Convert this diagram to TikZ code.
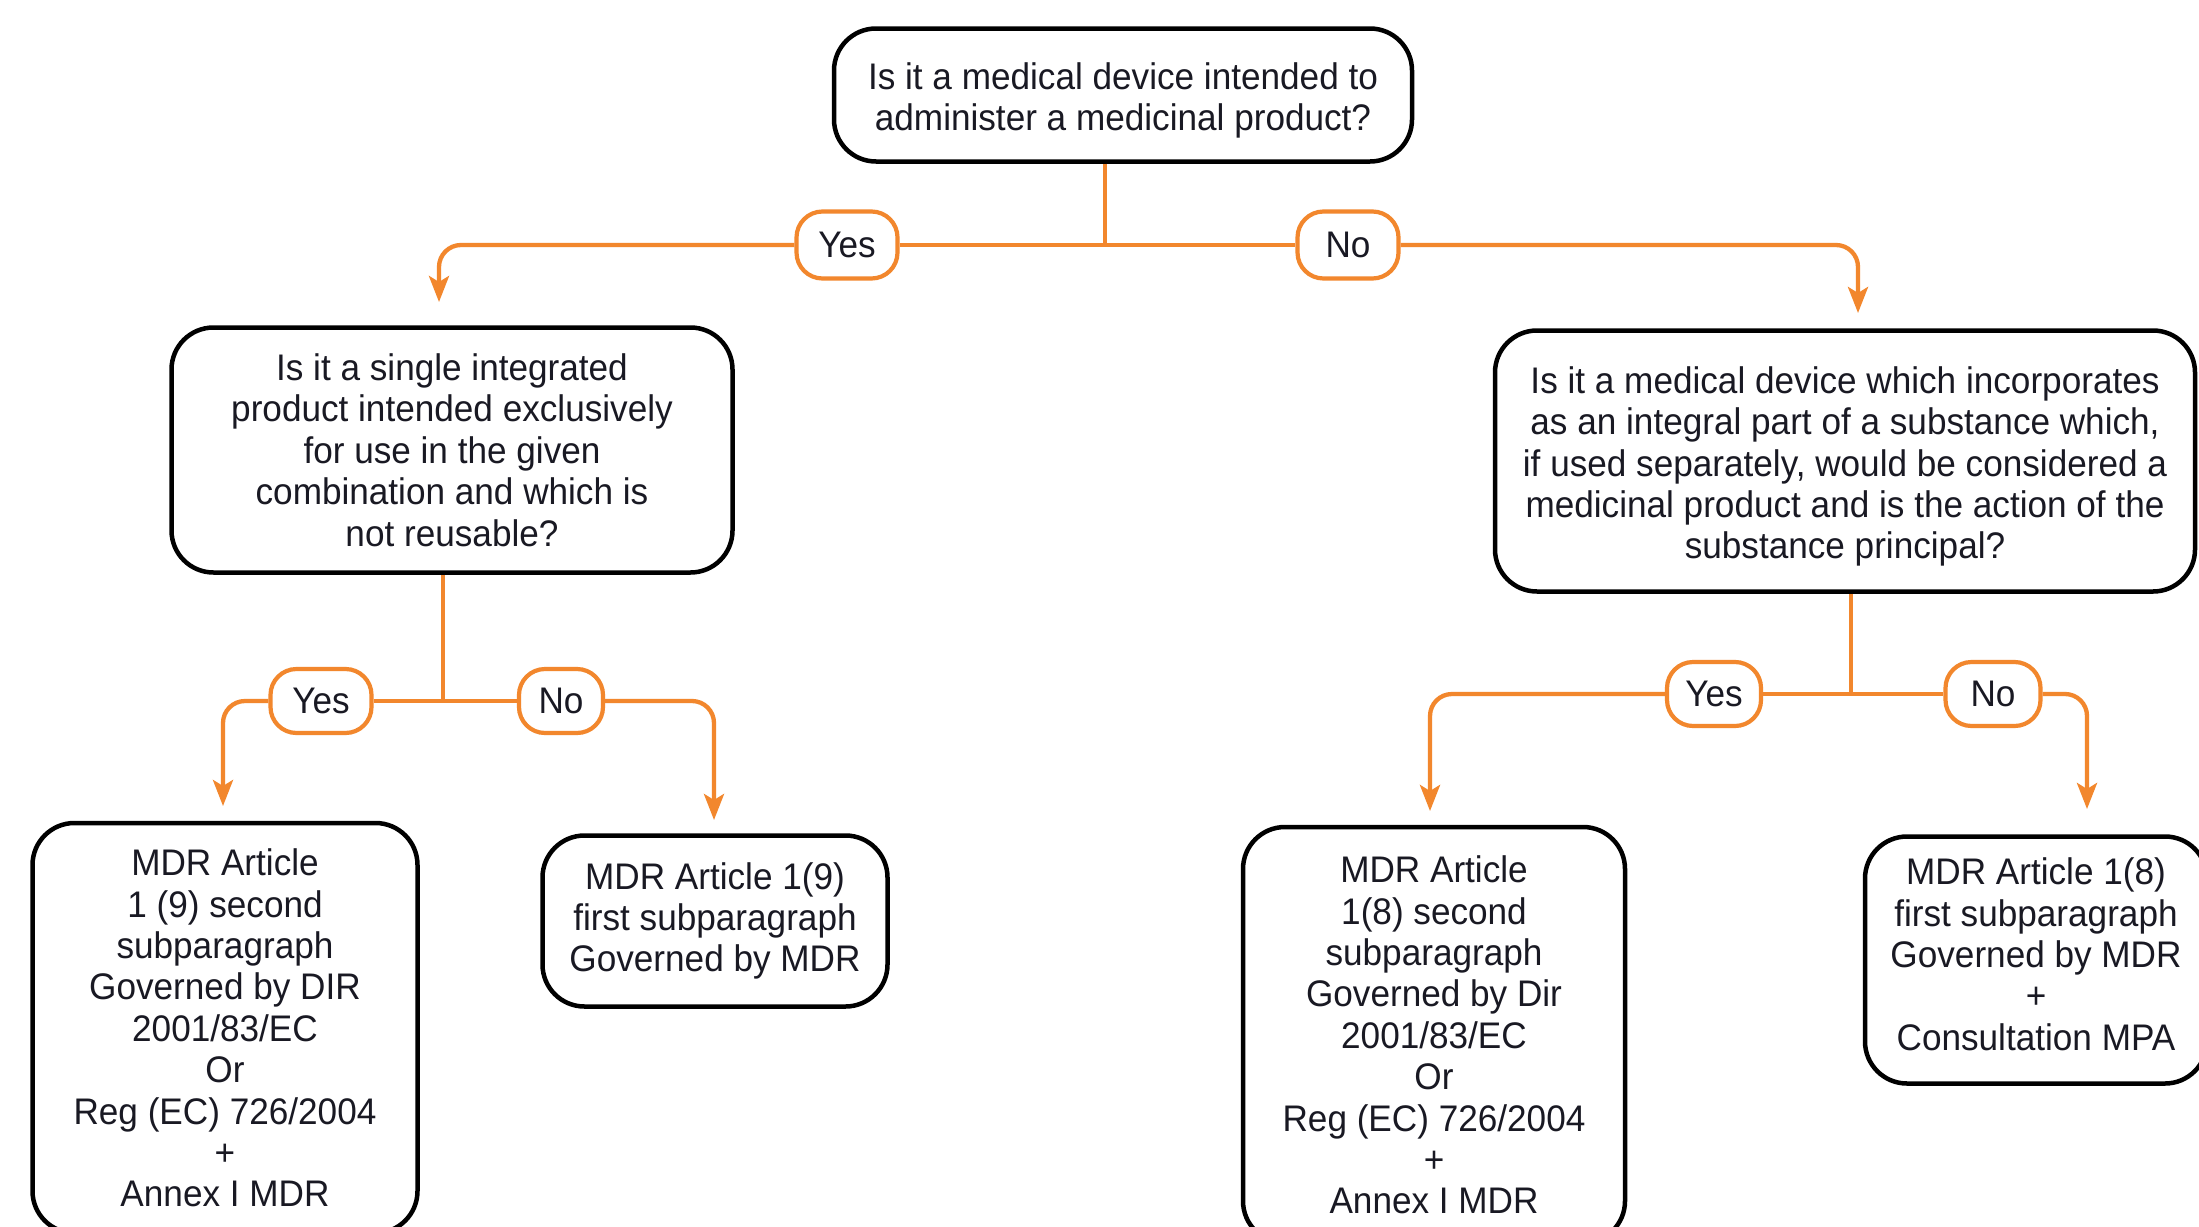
\documentclass[tikz,border=0pt]{standalone}
\usepackage{fontspec}
\setmainfont{Liberation Sans}[FakeStretch=0.95]
\usetikzlibrary{arrows.meta}
\definecolor{org}{RGB}{242,135,45}
\definecolor{ink}{RGB}{25,25,35}
\tikzset{
  qbox/.style={draw=black, line width=4.5pt, rounded corners=42pt, align=center, inner sep=0pt, text=ink},
  lbl/.style={draw=org, line width=4.2pt, rounded corners=26pt, fill=white, inner sep=0pt, align=center, text=ink},
  oline/.style={draw=org, line width=4.3pt},
  oarrow/.style={draw=org, line width=4.3pt, rounded corners=22pt, -{Stealth[length=26pt,width=20pt,inset=6pt]}},
  txt/.style={font=\fontsize{37}{41.4}\selectfont}
}
\begin{document}
\begin{tikzpicture}[x=1pt,y=-1pt]
\useasboundingbox[fill=white] (0,0) rectangle (2199,1226);
\clip (0,0) rectangle (2199,1226);

% question / result boxes
\node[qbox, txt, minimum width=578pt, minimum height=133pt] (top) at (1123,95)
  {\rule{0pt}{38pt}Is it a medical device intended to\\administer a medicinal product?};
\node[qbox, txt, minimum width=561pt, minimum height=245pt] (q1) at (452,450)
  {Is it a single integrated\\product intended exclusively\\for use in the given\\combination and which is\\not reusable?};
\node[qbox, txt, minimum width=700pt, minimum height=261pt] (q2) at (1845,461)
  {\rule{0pt}{38pt}Is it a medical device which incorporates\\as an integral part of a substance which,\\if used separately, would be considered a\\medicinal product and is the action of the\\substance principal?};
\node[qbox, txt, minimum width=385pt, minimum height=410pt] (r1) at (225,1028)
  {MDR Article\\1 (9) second\\subparagraph\\Governed by DIR\\2001/83/EC\\Or\\Reg (EC) 726/2004\\+\\Annex I MDR};
\node[qbox, txt, minimum width=345pt, minimum height=171pt] (r2) at (715,921)
  {MDR Article 1(9)\\first subparagraph\\Governed by MDR};
\node[qbox, txt, minimum width=382pt, minimum height=416pt] (r3) at (1434,1035)
  {MDR Article\\1(8) second\\subparagraph\\Governed by Dir\\2001/83/EC\\Or\\Reg (EC) 726/2004\\+\\Annex I MDR};
\node[qbox, txt, minimum width=342pt, minimum height=247pt] (r4) at (2036,960)
  {MDR Article 1(8)\\first subparagraph\\Governed by MDR\\+\\Consultation MPA\rule[-12pt]{0pt}{12pt}};

% labels
\node[lbl, txt, minimum width=101pt, minimum height=67pt] (y1) at (847,245) {Yes};
\node[lbl, txt, minimum width=101pt, minimum height=67pt] (n1) at (1348,245) {No};
\node[lbl, txt, minimum width=101pt, minimum height=64pt] (y2) at (321,701) {Yes};
\node[lbl, txt, minimum width=84pt, minimum height=64pt] (n2) at (561,701) {No};
\node[lbl, txt, minimum width=94pt, minimum height=64pt] (y3) at (1714,694) {Yes};
\node[lbl, txt, minimum width=95pt, minimum height=64pt] (n3) at (1993,694) {No};

% junctions and arrow ends
\coordinate (j1) at (1105,245);
\coordinate (j2) at (443,701);
\coordinate (j3) at (1851,694);
\coordinate (a1) at (439,302);
\coordinate (a2) at (1858,313);
\coordinate (a3) at (223,806);
\coordinate (a4) at (714,820);
\coordinate (a5) at (1430,811);
\coordinate (a6) at (2087,809);

% connectors
\draw[oline] (y1.east) -- (n1.west);
\draw[oline] (top.south -| j1) -- (j1);
\draw[oline] (y2.east) -- (n2.west);
\draw[oline] (q1.south -| j2) -- (j2);
\draw[oline] (y3.east) -- (n3.west);
\draw[oline] (q2.south -| j3) -- (j3);

\draw[oarrow] (y1.west) -| (a1);
\draw[oarrow] (n1.east) -| (a2);
\draw[oarrow] (y2.west) -| (a3);
\draw[oarrow] (n2.east) -| (a4);
\draw[oarrow] (y3.west) -| (a5);
\draw[oarrow] (n3.east) -| (a6);
\end{tikzpicture}
\end{document}
